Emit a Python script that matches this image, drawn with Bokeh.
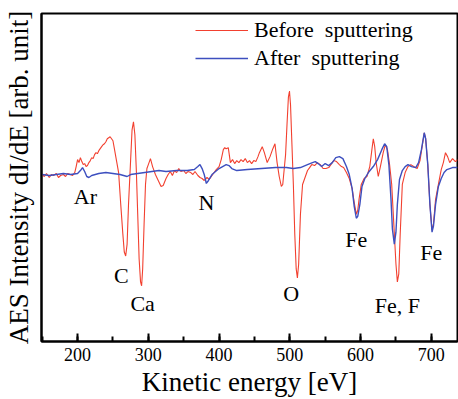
from bokeh.plotting import figure
from bokeh.models import Range1d, SingleIntervalTicker, Legend, LegendItem, Label
from bokeh.embed import file_html
from bokeh.resources import INLINE

# ---- data (kinetic energy in eV, dI/dE in arbitrary units) ----
before_e = [150, 153, 156, 160, 163, 166, 170, 173, 176, 180, 183, 186, 190, 193, 196, 198, 200, 202, 204, 206, 208, 210, 212, 214,
            216, 218, 220, 222, 224, 226, 228, 230, 232, 234, 236, 238, 240, 242, 244, 246, 248, 250, 252, 255, 258, 261, 264,
            266, 268, 270, 272, 275, 277, 279, 281, 283, 285, 287, 289, 290.5, 292, 294, 296, 298, 300, 303, 306, 310, 314, 318,
            321, 325, 328, 331, 334, 337, 340, 343, 346, 350, 353, 356, 360, 363, 366, 370, 373, 376, 379, 383, 386, 389, 392,
            396, 400, 403, 406, 408, 410, 413, 416, 419, 422, 425, 428, 431, 434, 437, 440, 443, 446, 449, 452, 455, 457, 459,
            461, 464, 468, 472, 474, 476, 479, 482, 485, 488, 490, 492, 494, 496, 498, 499.5, 501, 503, 505, 507, 509, 510.7,
            512.5, 515, 518, 521, 525, 528, 531, 535, 539, 543, 547, 551, 555, 558, 562, 566, 570, 573, 576, 580, 584, 588,
            591, 594, 596, 598, 601, 605, 609, 613, 616, 618, 620, 622, 625, 628, 632, 635, 638, 641, 644, 647, 650, 652, 654,
            656, 659, 663, 667, 671, 675, 680, 684, 687, 690, 692, 695, 698, 701, 703, 706, 710, 714, 717, 720, 723, 726, 730,
            734, 737]
before_i = [0, -2, 1, -3, 0, -1, 1, -3, -1, 0, -2, 1, 0, -1, 2, 8, 15, 12, 17, 13, 10, 11, 8, 9,
            12, 14, 17, 16, 20, 22, 21, 24, 26, 28, 30, 31, 33, 36, 37, 38, 36, 34, 26, 14, 2, -30, -60,
            -78, -82, -70, -30, 15, 45, 53, 40, 5, -40, -85, -108, -112, -95, -50, -10, 6, 10, 16, 8, 0, -6, -12,
            -11, -4, 0, 3, -1, 4, 2, 6, 3, 4, 1, 3, 2, 0, 3, -1, -3, -4, -6, -3, -5, -2, 1,
            5, 8, 15, 25, 27, 26, 27, 12, 15, 11, 14, 12, 15, 13, 16, 12, 14, 11, 14, 13, 18, 22, 25,
            28, 22, 12, 18, 22, 26, 31, 12, -2, -12, -10, 5, 20, 50, 78, 84, 70, 30, -10, -60, -95, -104,
            -90, -40, -10, -4, 4, 7, 10, 9, 12, 10, 6, 6, 7, 10, 14, 13, 10, 8, 7, 2, -4, -14,
            -28, -40, -36, -24, -10, -4, -2, 8, 25, 36, 28, 12, -2, 8, 22, 30, 25, 10, -10, -50, -90, -108, -100,
            -60, -10, 2, 8, 10, 8, 6, 14, 28, 42, 36, 10, -30, -56, -50, -25, -10, 5, 12, 22, 18, 12, 16,
            13, 15]

after_e = [150, 160, 170, 180, 190, 200, 204, 207, 210, 213, 216, 220, 230, 240, 250, 260, 265, 270, 275, 285, 295, 305, 315,
           325, 340, 355, 365, 370, 373, 376, 379, 382, 385, 390, 395, 400, 405, 410, 414, 418, 425, 440, 460, 480, 495,
           505, 515, 525, 532, 536, 540, 545, 550, 555, 560, 565, 570, 575, 580, 584, 588, 591, 594, 596, 599, 602, 606,
           611, 618, 624, 630, 634, 637, 640, 643, 645, 647.7, 650, 652, 655, 659, 663, 667, 672, 678, 682, 686, 690, 692,
           695, 698, 701, 703, 706, 710, 714, 718, 722, 726, 730, 737]
after_i = [0, -1, 0, 1, 0, 1, 4, 7, 3, -2, -3, -1, 1, 2, 1, 0, -1, -2, 0, 1, 2, 3, 4,
           3, 4, 4, 5, 8, 10, 6, 0, -9, -6, 0, 3, 6, 8, 10, 9, 6, 4, 5, 6, 7, 7,
           6, 7, 10, 12, 13, 11, 8, 11, 9, 12, 17, 18, 16, 8, 0, -14, -32, -44, -42, -30, -12, -4,
           2, 8, 15, 25, 31, 28, 10, -25, -55, -70, -58, -30, -5, 4, 8, 10, 8, 7, 12, 25, 42, 36,
           10, -30, -58, -52, -30, -12, -4, 2, 5, 6, 7, 7]

peak_names = ["Ar", "C", "Ca", "N", "O", "Fe", "Fe, F", "Fe"]
peak_e = [211, 262, 292, 382, 502, 594, 652, 700]
peak_i = [-22, -102, -130, -28, -120, -65, -132, -78]

x_ticks = [200, 300, 400, 500, 600, 700]

SERIF = "Liberation Serif"

p = figure(width=458, height=399, output_backend="svg", toolbar_location=None,
           x_range=Range1d(149, 737), y_range=Range1d(-168, 162),
           min_border_left=41, min_border_right=1, min_border_top=13, min_border_bottom=56)

p.background_fill_color = "white"
p.border_fill_color = "white"
p.outline_line_color = "black"
p.outline_line_width = 2
p.xgrid.visible = False
p.ygrid.visible = False

r1 = p.line(before_e, before_i, line_color="#f2402f", line_width=1.1)
r2 = p.line(after_e, after_i, line_color="#3d4fbf", line_width=1.4)

for name, e, v in zip(peak_names, peak_e, peak_i):
    p.add_layout(Label(x=e, y=v, text=name, text_align="center", text_baseline="middle",
                       text_font=SERIF, text_font_size="22px", text_color="black"))

# x axis
xa = p.xaxis[0]
xa.ticker = SingleIntervalTicker(interval=100, num_minor_ticks=2)
xa.axis_line_width = 2
xa.axis_line_color = "black"
xa.major_tick_in = 8
xa.major_tick_out = 0
xa.minor_tick_in = 5
xa.minor_tick_out = 0
xa.major_tick_line_width = 2
xa.minor_tick_line_width = 2
xa.major_label_text_font = SERIF
xa.major_label_text_font_size = "18px"
xa.major_label_text_color = "black"
xa.major_label_standoff = 6
xa.axis_label = "Kinetic energy [eV]"
xa.axis_label_text_font = SERIF
xa.axis_label_text_font_size = "27px"
xa.axis_label_text_font_style = "normal"
xa.axis_label_text_color = "black"
xa.axis_label_standoff = 3

ya = p.yaxis[0]
ya.axis_line_width = 2
ya.axis_line_color = "black"
ya.major_tick_line_color = None
ya.minor_tick_line_color = None
ya.major_label_text_font_size = "0px"
ya.major_label_text_alpha = 0
ya.axis_label = "AES Intensity dI/dE [arb. unit]"
ya.axis_label_text_font = SERIF
ya.axis_label_text_font_size = "27px"
ya.axis_label_text_font_style = "normal"
ya.axis_label_text_color = "black"
ya.axis_label_standoff = 2

legend = Legend(items=[LegendItem(label="Before  sputtering", renderers=[r1]),
                       LegendItem(label="After  sputtering", renderers=[r2])],
                location=(154, 269), padding=0, margin=0, spacing=0,
                glyph_width=53, glyph_height=28, label_height=28, label_standoff=6,
                label_text_font=SERIF, label_text_font_size="22px", label_text_color="black",
                border_line_color=None, background_fill_alpha=0)
p.add_layout(legend)

open("out.html", "w").write(file_html(p, INLINE))
